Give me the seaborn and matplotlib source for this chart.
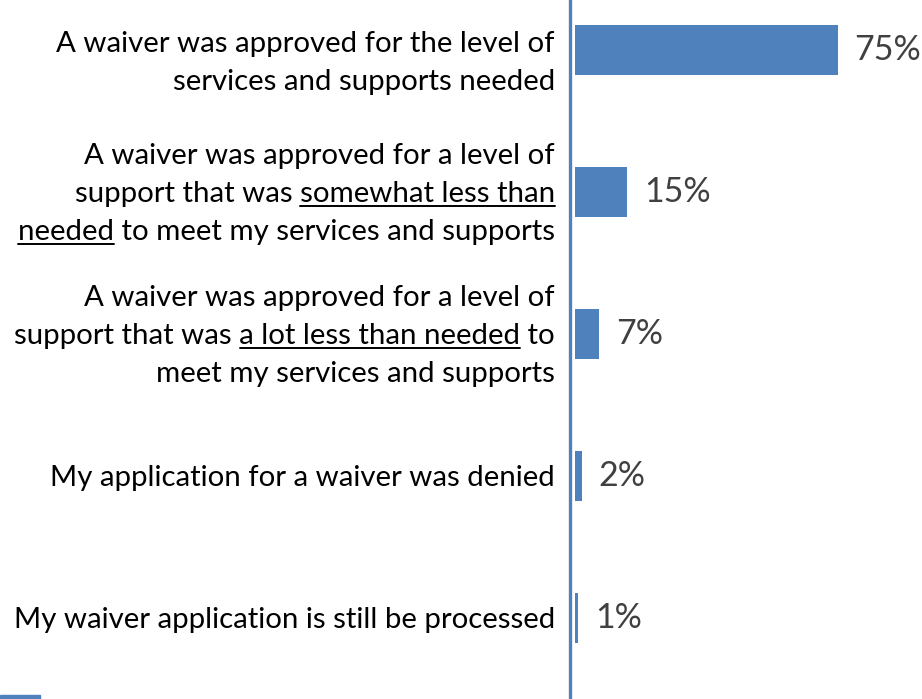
# waiver approval chart
import pandas as pd
import matplotlib.pyplot as plt
from matplotlib.lines import Line2D
from matplotlib.patches import Rectangle
import seaborn as sns

sns.set_style("white")
plt.rcParams["font.family"] = ["Lato", "DejaVu Sans"]

# data
categories = ["approved_full", "approved_somewhat_less", "approved_lot_less",
              "denied", "processing"]
percents = [75, 15, 7, 2, 1]
value_labels = ["75%", "15%", "7%", "2%", "1%"]

# label text, each line is a list of (text, underlined)
label_lines = [
    [[("A waiver was approved for the level of", False)],
     [("services and supports needed", False)]],
    [[("A waiver was approved for a level of", False)],
     [("support that was ", False), ("somewhat less than", True)],
     [("needed", True), (" to meet my services and supports", False)]],
    [[("A waiver was approved for a level of", False)],
     [("support that was ", False), ("a lot less than needed", True), (" to", False)],
     [("meet my services and supports", False)]],
    [[("My application for a waiver was denied", False)]],
    [[("My waiver application is still be processed", False)]],
]

df = pd.DataFrame({"category": categories, "percent": percents})

bar_color = "#4F81BD"
W, H = 922, 699
fig = plt.figure(figsize=(W / 100, H / 100), dpi=100)
ax = fig.add_axes([570 / W, 0, 1 - 570 / W, 1])

sns.barplot(data=df, x="percent", y="category", orient="h", color=bar_color,
            saturation=1, width=0.35, linewidth=0, ax=ax)

ax.set_xlim(-1.4, 99)
ax.set_ylim(4.57, -0.352)
ax.set_xticks([])
ax.set_yticks([])
ax.set_xlabel("")
ax.set_ylabel("")
for s in ["top", "right", "bottom"]:
    ax.spines[s].set_visible(False)
ax.spines["left"].set_color(bar_color)
ax.spines["left"].set_linewidth(2.4)

ax.bar_label(ax.containers[0], labels=value_labels, padding=12,
             fontsize=24.5, color="#404040")

# category labels drawn line by line so parts can be underlined
fig.canvas.draw()
renderer = fig.canvas.get_renderer()
right_px = 555
pitch = 38
fsize = 21.2


def text_width(s):
    t = fig.text(0, 0, s, fontsize=fsize)
    w = t.get_window_extent(renderer).width
    t.remove()
    return w


for i, lines in enumerate(label_lines):
    cy = ax.transData.transform((0, i))[1]
    if i == 0:
        cy -= 11
    n = len(lines)
    for k, parts in enumerate(lines):
        line_cy = cy + ((n - 1) / 2 - k) * pitch
        base = line_cy - 10
        full = "".join(p[0] for p in parts)
        fig.text(right_px / W, base / H, full, ha="right", va="baseline",
                 fontsize=fsize, color="black")
        # underlines
        for j, (seg, under) in enumerate(parts):
            if not under:
                continue
            tail = "".join(p[0] for p in parts[j + 1:])
            w_tail = text_width(tail) if tail else 0
            w_seg = text_width(seg + tail) - w_tail
            x2 = right_px - w_tail
            x1 = x2 - w_seg
            y = base - 4
            fig.add_artist(Line2D([x1 / W, x2 / W], [y / H, y / H],
                                  transform=fig.transFigure, color="black", lw=1.4))

# small legend fragment at the bottom left
fig.patches.append(Rectangle((0, 0), 40 / W, 4 / H, transform=fig.transFigure,
                             color=bar_color))

fig.savefig("out.png", dpi=100)
